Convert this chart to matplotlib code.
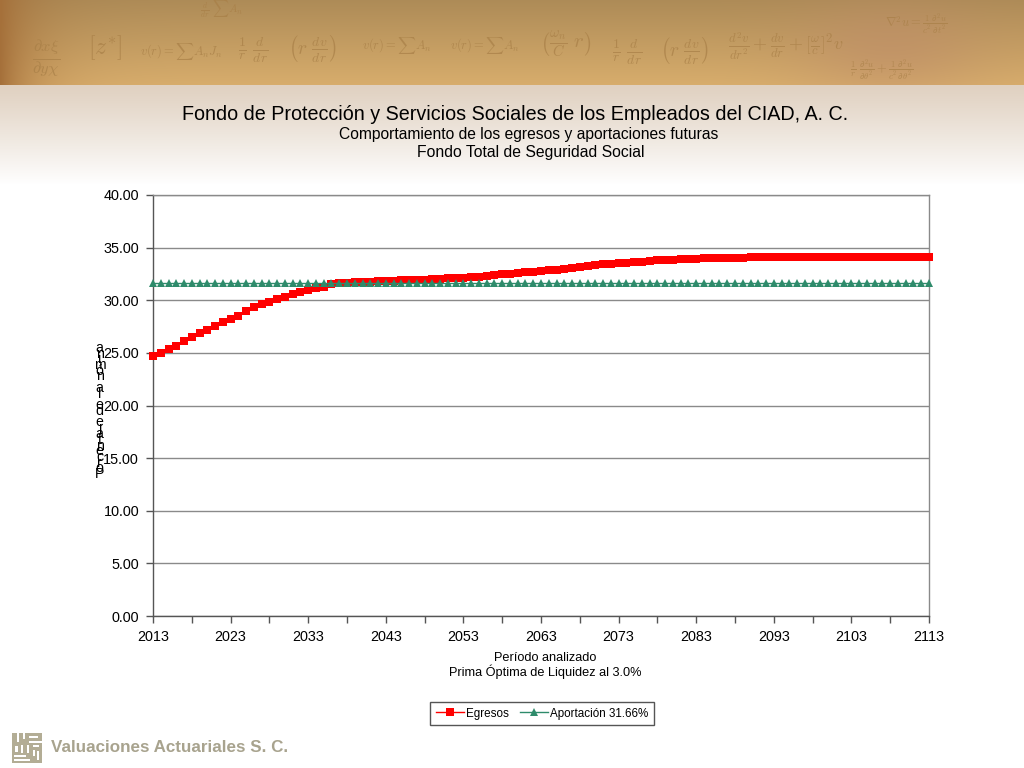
#!/usr/bin/env python3
# -*- coding: utf-8 -*-
"""Egresos y aportaciones futuras, Fondo Total de Seguridad Social"""

import numpy as np
import matplotlib
matplotlib.use('Agg')
import matplotlib.pyplot as plt
from matplotlib.patches import Rectangle

plt.rcParams['font.family'] = ['Liberation Sans', 'DejaVu Sans']
plt.rcParams['mathtext.fontset'] = 'cm'

W, H = 1024, 768

# datos
years = list(range(2013, 2114))
egresos = [
    24.66, 25.00, 25.37, 25.70, 26.10, 26.50, 26.85, 27.20, 27.60, 27.90,
    28.20, 28.55, 29.00, 29.35, 29.65, 29.85, 30.10, 30.35, 30.60, 30.80,
    31.00, 31.15, 31.30, 31.50, 31.60, 31.65, 31.70, 31.72, 31.75, 31.80,
    31.82, 31.85, 31.88, 31.90, 31.93, 31.96, 32.00, 32.03, 32.07, 32.10,
    32.15, 32.20, 32.25, 32.32, 32.38, 32.45, 32.52, 32.58, 32.65, 32.72,
    32.78, 32.85, 32.92, 33.00, 33.08, 33.17, 33.25, 33.32, 33.40, 33.47,
    33.53, 33.58, 33.63, 33.68, 33.73, 33.78, 33.82, 33.86, 33.90, 33.93,
    33.96, 33.98, 34.00, 34.02, 34.04, 34.05, 34.06, 34.07, 34.08, 34.09,
    34.10, 34.10, 34.10, 34.11, 34.11, 34.11, 34.12, 34.12, 34.12, 34.12,
    34.12, 34.13, 34.13, 34.13, 34.13, 34.13, 34.13, 34.13, 34.13, 34.13,
    34.13,
]
aportacion = [31.66] * 101
y_ticks = [0, 5, 10, 15, 20, 25, 30, 35, 40]
x_major = list(range(2013, 2114, 10))
x_minor = list(range(2013, 2114, 5))

titulo = 'Fondo de Protección y Servicios Sociales de los Empleados del CIAD, A. C.'
subtitulos = ['Comportamiento de los egresos y aportaciones futuras',
              'Fondo Total de Seguridad Social']
eje_x = 'Período analizado\nPrima Óptima de Liquidez al 3.0%'
eje_y = 'Porcentaje de la nómina'


def fx(px):
    return px / W


def fy(py):
    return 1 - py / H


fig = plt.figure(figsize=(W / 100, H / 100), dpi=100, facecolor='white')

# fondo: franja tipo pergamino y degradado, en coordenadas de pixel
bg = fig.add_axes([0, 0, 1, 1], zorder=0)
bg.set_xlim(0, W)
bg.set_ylim(H, 0)
bg.axis('off')

xx = np.linspace(0, 1, W)
yy = np.linspace(0, 1, 85)
gx, gy = np.meshgrid(xx, yy)
base = np.array([207, 166, 104], dtype=float)
band = np.ones((85, W, 3)) * base
band *= (0.84 + 0.20 * gy)[..., None]
edge = np.exp(-gx / 0.035)[..., None]
band = band * (1 - edge) + np.array([165, 112, 58]) * edge
patch = np.exp(-(((gx - 0.87) / 0.09) ** 2 + ((gy - 0.55) / 0.6) ** 2))[..., None]
band = band * (1 - 0.55 * patch) + np.array([190, 140, 105]) * 0.55 * patch
bg.imshow(band.astype(np.uint8), extent=(0, W, 85, 0), aspect='auto', zorder=1)

fade = np.linspace(0, 1, 100) ** 1.1
grad = np.array([224, 209, 193]) * (1 - fade)[:, None] + np.array([255, 255, 255]) * fade[:, None]
bg.imshow(grad[:, None, :].astype(np.uint8), extent=(0, W, 185, 85), aspect='auto', zorder=1)
bg.set_xlim(0, W)
bg.set_ylim(H, 0)

formulas = [
    (32, 58, r'$\frac{\partial x\xi}{\partial y\chi}$', 17),
    (88, 48, r'$[z^{*}]$', 17),
    (140, 52, r'$v(r)=\sum A_n J_n$', 9),
    (238, 50, r'$\frac{1}{r}\ \frac{d}{dr}$', 14),
    (288, 48, r'$\left(r\ \frac{dv}{dr}\right)$', 14),
    (362, 46, r'$v(r)=\sum A_n$', 9),
    (450, 46, r'$v(r)=\sum A_n$', 9),
    (540, 44, r'$\left(\frac{\omega_n}{C}\ r\right)$', 15),
    (612, 52, r'$\frac{1}{r}\ \frac{d}{dr}$', 14),
    (660, 50, r'$\left(r\ \frac{dv}{dr}\right)$', 14),
    (728, 46, r'$\frac{d^2v}{dr^2}+\frac{dv}{dr}+\left[\frac{\omega}{c}\right]^2 v$', 13),
    (885, 24, r'$\nabla^2 u=\frac{1}{c^2}\frac{\partial^2 u}{\partial t^2}$', 9),
    (850, 70, r'$\frac{1}{r}\ \frac{\partial^2 u}{\partial\theta^2}+\frac{1}{c^2}\frac{\partial^2 u}{\partial\theta^2}$', 9),
    (200, 9, r'$\frac{d}{dr}\ \sum A_n$', 8),
]
for x, y, s, size in formulas:
    bg.text(x, y, s, fontsize=size, color='#a87f47', alpha=0.7, va='center', ha='left', zorder=2)

# logo
logo_color = '#b3ad95'
bg.add_patch(Rectangle((12, 733), 30, 30, facecolor=logo_color, edgecolor='none', zorder=2))
for x, y, w, h in [(17, 733, 2, 9), (23, 733, 2, 6), (29, 736, 9, 2), (29, 741, 13, 1.5),
                   (15, 746, 3, 6), (21, 745, 2, 8), (27, 745, 2, 8), (33, 745, 6, 2),
                   (33, 750, 2, 6), (14, 755, 12, 1.5), (14, 759, 16, 1.5), (37, 751, 2, 9)]:
    bg.add_patch(Rectangle((x, y), w, h, facecolor='white', edgecolor='none', zorder=3))
bg.text(51, 747.5, 'Valuaciones Actuariales S. C.', fontsize=12.25, fontweight='bold',
        color='#a8a38e', va='center', ha='left')

# textos de cabecera
fig.text(fx(515.5), fy(115), titulo, fontsize=14.25, ha='center', va='center', color='black')
fig.text(fx(528.5), fy(134.5), subtitulos[0], fontsize=11.25, ha='center', va='center', color='black')
fig.text(fx(531), fy(152.5), subtitulos[1], fontsize=11.35, ha='center', va='center', color='black')

# grafico
ax = fig.add_axes([fx(153), fy(616), fx(776), 421 / H], zorder=1, facecolor='white')
ax.set_xlim(2013, 2113)
ax.set_ylim(0, 40)
ax.set_yticks(y_ticks)
ax.set_yticklabels([f'{v:.2f}' for v in y_ticks])
ax.set_xticks(x_major)
ax.set_xticks(x_minor, minor=True)
ax.tick_params(axis='both', which='both', labelsize=10.4, color='#555555', width=1,
               direction='out', labelcolor='black')
ax.tick_params(axis='y', length=5, pad=5)
ax.tick_params(axis='x', which='major', length=5, pad=5)
ax.tick_params(axis='x', which='minor', length=5)
ax.grid(axis='y', color='#8a8a8a', linewidth=1)
ax.set_axisbelow(True)
for side in ['top', 'right']:
    ax.spines[side].set_color('#8a8a8a')
for side in ['left', 'bottom']:
    ax.spines[side].set_color('#555555')
for spine in ax.spines.values():
    spine.set_linewidth(1)

ax.plot(years, egresos, color='#ff0000', linewidth=1.0, marker='s', markersize=5.3,
        markeredgewidth=0, clip_on=False, zorder=3, label='Egresos')
ax.plot(years, aportacion, color='#2e8b6b', linewidth=1.0, marker='^', markersize=6.2,
        markeredgewidth=0, clip_on=False, zorder=4, label='Aportación 31.66%')

fig.text(fx(99.5), fy(411), '\n'.join(reversed(eje_y)), fontsize=10.2, ha='center', va='center',
         linespacing=0.25, color='black', zorder=5)
fig.text(fx(545), fy(665.5), eje_x, fontsize=9.15, ha='center', va='center', linespacing=1.05)

leg = fig.legend(loc='center', bbox_to_anchor=(fx(542), fy(713.5)), ncol=2, fontsize=8.4,
                 frameon=True, fancybox=False, framealpha=1, edgecolor='#555555',
                 handlelength=2.4, handletextpad=0.15, columnspacing=1.0,
                 borderpad=0.5, borderaxespad=0)
leg.get_frame().set_linewidth(1)

fig.savefig('out.png', dpi=100)
